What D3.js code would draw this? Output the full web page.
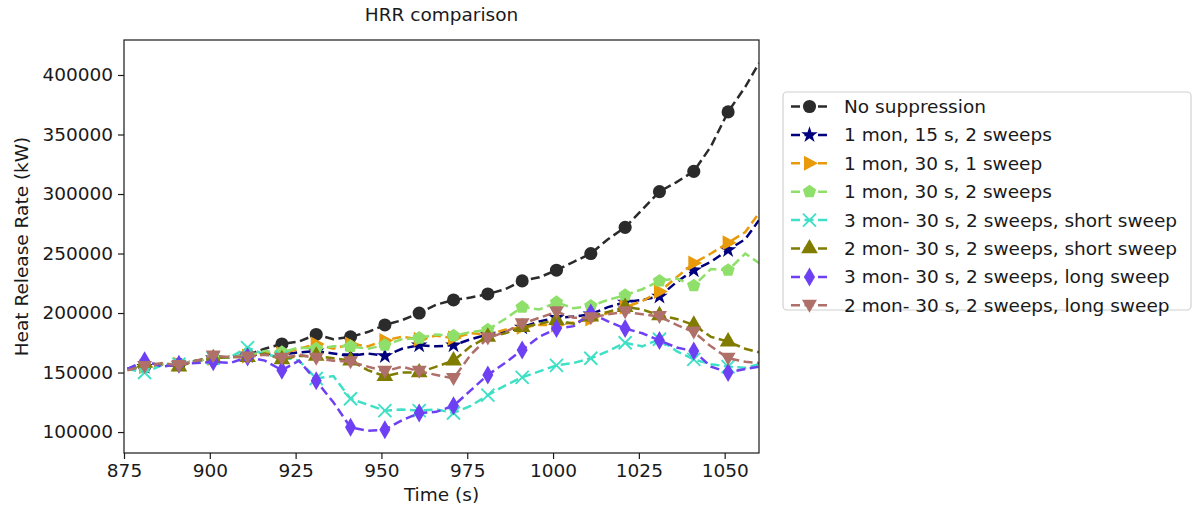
<!DOCTYPE html>
<html>
<head>
<meta charset="utf-8">
<script src="https://cdn.jsdelivr.net/npm/d3@7"></script>
<style>
  body { margin: 0; background: #fff; }
  text { font-family: "DejaVu Sans", sans-serif; fill: #1a1a1a; }
</style>
</head>
<body>
<div id="chart"></div>
<script>
// time stamps (s)
var time = [876, 881, 886, 891, 896, 901, 906, 911, 916, 921, 926, 931, 936, 941, 946, 951, 956, 961, 966,
            971, 976, 981, 986, 991, 996, 1001, 1006, 1011, 1016, 1021, 1026, 1031, 1036, 1041, 1046, 1051, 1056, 1060];

// heat release rate (kW) per case
var noSuppression = [153000, 155000, 157000, 157000, 160000, 162000, 163000, 165000, 170000, 174000, 176000, 182000, 178000,
                     180000, 184000, 190000, 194000, 200000, 207000, 211000, 213000, 216000, 220000, 227000, 230000, 236000,
                     243000, 250000, 262000, 272000, 287000, 302000, 310000, 319000, 340000, 369000, 390000, 410000];
var mon1s15sw2 = [153000, 155000, 157000, 157000, 160000, 162000, 163000, 164000, 166000, 165000, 167000, 168000, 166000,
                  164000, 166000, 164000, 170000, 173000, 172000, 173000, 178000, 182000, 184000, 188000, 193000, 196000,
                  197000, 199000, 205000, 209000, 211000, 214000, 226000, 236000, 243000, 253000, 262000, 278000];
var mon1s30sw1 = [153000, 155000, 157000, 157000, 160000, 162000, 163000, 164000, 167000, 166000, 170000, 174000, 170000,
                  174000, 172000, 177000, 180000, 178000, 181000, 179000, 183000, 182000, 186000, 188000, 190000, 190000,
                  192000, 195000, 200000, 205000, 210000, 218000, 230000, 242000, 250000, 259000, 268000, 284000];
var mon1s30sw2 = [153000, 155000, 157000, 157000, 160000, 162000, 163000, 164000, 168000, 167000, 171000, 170000, 172000,
                  172000, 170000, 173000, 178000, 179000, 182000, 181000, 184000, 186000, 195000, 205000, 203000, 209000,
                  204000, 206000, 211000, 215000, 220000, 227000, 229000, 223000, 237000, 236000, 250000, 242000];
var mon3Short = [153000, 150000, 156000, 157000, 160000, 162000, 163000, 171000, 165000, 163000, 160000, 145000, 147000,
                 128000, 123000, 118000, 119000, 118000, 119000, 116000, 122000, 131000, 139000, 146000, 151000, 156000,
                 158000, 162000, 168000, 175000, 172000, 178000, 168000, 161000, 157000, 155000, 154000, 157000];
var mon2Short = [153000, 158000, 157000, 155000, 160000, 162000, 163000, 163000, 166000, 161000, 164000, 164000, 162000,
                 160000, 152000, 147000, 150000, 150000, 155000, 160000, 172000, 180000, 183000, 188000, 191000, 194000,
                 191000, 197000, 201000, 205000, 203000, 198000, 195000, 190000, 180000, 176000, 170000, 167000];
var mon3Long = [153000, 160000, 155000, 157000, 158000, 159000, 158000, 163000, 160000, 152000, 160000, 143000, 125000,
                104000, 101000, 102000, 110000, 116000, 117000, 122000, 135000, 148000, 158000, 169000, 180000, 187000,
                189000, 200000, 193000, 187000, 183000, 177000, 171000, 168000, 155000, 150000, 153000, 155000];
var mon2Long = [152000, 155000, 158000, 156000, 160000, 164000, 163000, 163000, 165000, 162000, 165000, 162000, 160000,
                159000, 155000, 151000, 155000, 151000, 148000, 145000, 165000, 179000, 184000, 191000, 196000, 201000,
                196000, 196000, 199000, 201000, 199000, 197000, 190000, 184000, 172000, 162000, 159000, 158000];

var labels = ["No suppression", "1 mon, 15 s, 2 sweeps", "1 mon, 30 s, 1 sweep", "1 mon, 30 s, 2 sweeps",
              "3 mon- 30 s, 2 sweeps, short sweep", "2 mon- 30 s, 2 sweeps, short sweep",
              "3 mon- 30 s, 2 sweeps, long sweep", "2 mon- 30 s, 2 sweeps, long sweep"];
var colors = ["#2b2b2b", "#00007f", "#e89a0a", "#8fe06a", "#3ee0c6", "#807c00", "#6e40f4", "#b0706a"];
var markers = ["circle", "star", "triRight", "pentagon", "x", "triUp", "diamond", "triDown"];
var seriesValues = [noSuppression, mon1s15sw2, mon1s30sw1, mon1s30sw2, mon3Short, mon2Short, mon3Long, mon2Long];

var xTicks = [875, 900, 925, 950, 975, 1000, 1025, 1050];
var yTicks = [100000, 150000, 200000, 250000, 300000, 350000, 400000];

var W = 1202, H = 511;
var ml = 124, mt = 40, pw = 635, ph = 413;

var svg = d3.select("#chart").append("svg")
    .attr("width", W)
    .attr("height", H);

var x = d3.scaleLinear().domain([875, 1060]).range([ml, ml + pw]);
var y = d3.scaleLinear().domain([82400, 429400]).range([mt + ph, mt]);

svg.append("clipPath").attr("id", "plotclip")
  .append("rect").attr("x", ml).attr("y", mt).attr("width", pw).attr("height", ph);

// marker shapes
function markerPath(kind) {
  var p;
  if (kind == "circle") return d3.symbol(d3.symbolCircle, 135)();
  if (kind == "star") return d3.symbol(d3.symbolStar, 85)();
  if (kind == "triUp") return d3.symbol(d3.symbolTriangle, 120)();
  if (kind == "triDown") return "M0,7.5L-7.5,-5.5L7.5,-5.5Z";
  if (kind == "triRight") return "M8.5,0L-5.5,-7.5L-5.5,7.5Z";
  if (kind == "diamond") return "M0,-9.5L5.5,0L0,9.5L-5.5,0Z";
  if (kind == "x") return "M-6.5,-6.5L6.5,6.5M-6.5,6.5L6.5,-6.5";
  if (kind == "pentagon") {
    p = d3.path();
    for (var k = 0; k < 5; k++) {
      var a = -Math.PI / 2 + k * 2 * Math.PI / 5;
      if (k == 0) p.moveTo(7 * Math.cos(a), 7 * Math.sin(a));
      else p.lineTo(7 * Math.cos(a), 7 * Math.sin(a));
    }
    p.closePath();
    return p.toString();
  }
}

function drawMarker(g, kind, color, cx, cy) {
  var m = g.append("path")
    .attr("d", markerPath(kind))
    .attr("transform", "translate(" + cx + "," + cy + ")");
  if (kind == "x") m.attr("fill", "none").attr("stroke", color).attr("stroke-width", 1.9);
  else m.attr("fill", color);
}

var line = d3.line()
  .x(function(d) { return x(d[0]); })
  .y(function(d) { return y(d[1]); });

var plot = svg.append("g").attr("clip-path", "url(#plotclip)");

seriesValues.forEach(function(vals, i) {
  var pts = time.map(function(t, j) { return [t, vals[j]]; });
  var g = plot.append("g");
  g.append("path")
    .attr("d", line(pts))
    .attr("fill", "none")
    .attr("stroke", colors[i])
    .attr("stroke-width", 2.5)
    .attr("stroke-dasharray", "9,4.5");
  pts.forEach(function(d) {
    if ((d[0] - 881) % 10 == 0) drawMarker(g, markers[i], colors[i], x(d[0]), y(d[1]));
  });
});

// axes
var xAxis = d3.axisBottom(x).tickValues(xTicks).tickSize(6).tickPadding(5).tickFormat(d3.format("d"));
var yAxis = d3.axisLeft(y).tickValues(yTicks).tickSize(6).tickPadding(5).tickFormat(d3.format("d"));

svg.append("g").attr("transform", "translate(0," + (mt + ph) + ")").call(xAxis)
  .call(function(g) { g.select(".domain").remove(); });
svg.append("g").attr("transform", "translate(" + ml + ",0)").call(yAxis)
  .call(function(g) { g.select(".domain").remove(); });

svg.selectAll(".tick text").attr("font-size", "18.5px").attr("font-family", "DejaVu Sans").attr("fill", "#1a1a1a");
svg.selectAll(".tick line").attr("stroke", "#1a1a1a").attr("stroke-width", 1.2);

svg.append("rect")
  .attr("x", ml).attr("y", mt).attr("width", pw).attr("height", ph)
  .attr("fill", "none").attr("stroke", "#1a1a1a").attr("stroke-width", 1.2);

// titles
svg.append("text").attr("x", ml + pw / 2).attr("y", 21)
  .attr("text-anchor", "middle").attr("font-size", "18.5px").text("HRR comparison");
svg.append("text").attr("x", ml + pw / 2).attr("y", 501)
  .attr("text-anchor", "middle").attr("font-size", "18.5px").text("Time (s)");
svg.append("text")
  .attr("transform", "translate(28," + (mt + ph / 2) + ") rotate(-90)")
  .attr("text-anchor", "middle").attr("font-size", "18.5px").text("Heat Release Rate (kW)");

// legend
var lg = svg.append("g");
lg.append("rect").attr("x", 783).attr("y", 92).attr("width", 408).attr("height", 218)
  .attr("rx", 4).attr("fill", "#fff").attr("stroke", "#d0d0d0").attr("stroke-width", 1.2);

labels.forEach(function(name, i) {
  var cy = 106.5 + i * 28.4;
  lg.append("line").attr("x1", 791).attr("x2", 828).attr("y1", cy).attr("y2", cy)
    .attr("stroke", colors[i]).attr("stroke-width", 2.5).attr("stroke-dasharray", "9,4.5");
  drawMarker(lg, markers[i], colors[i], 809.5, cy);
  lg.append("text").attr("x", 844).attr("y", cy + 6.5).attr("font-size", "18.5px").text(name);
});
</script>
</body>
</html>
